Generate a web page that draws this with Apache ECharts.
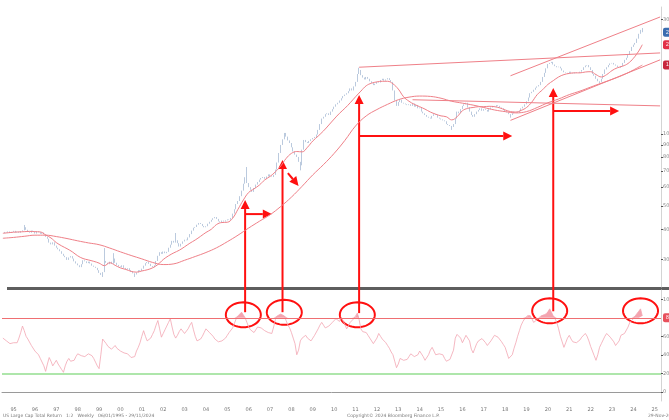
<!DOCTYPE html>
<html>
<head>
<meta charset="utf-8">
<script src="https://cdn.jsdelivr.net/npm/echarts@6/dist/echarts.min.js"></script>
<style>
  html, body { margin: 0; padding: 0; background: #fff; }
  #chart { width: 669px; height: 420px; }
</style>
</head>
<body>
<div id="chart"></div>
<script>
// monthly closes, Jan 1995 .. Dec 2024
const closes = [
  38.5, 39, 38.8, 39.2, 38.6, 39, 39.4, 38.8, 39.1, 38.7, 39.3, 39.6,
  40.8, 39.8, 39.2, 38.7, 39.5, 39, 38.4, 39.2, 38.9, 38.3, 38.8, 38.1,
  37.2, 36.5, 35.2, 34.6, 35.3, 34.2, 33.5, 33.0, 32.4, 31.6, 31.0, 30.6,
  29.8, 30.5, 30.9, 30.2, 29.4, 28.8, 28.3, 27.8, 28.6, 29.7, 29.4, 28.9,
  29.3, 28.8, 28.2, 27.9, 27.6, 27.0, 26.3, 25.8, 26.5, 29.5, 29.0, 28.6,
  29.3, 28.7, 30.2, 29.0, 28.4, 28.0, 27.8, 28.3, 27.6, 27.2, 27.5, 27.0,
  26.6, 26.2, 25.9, 26.4, 27.0, 26.8, 27.4, 28.2, 28.9, 29.2, 28.7, 28.1,
  27.8, 28.3, 29.5, 31.0, 32.1, 31.6, 32.3, 31.8, 32.2, 33.5, 34.5, 35.8,
  35.2, 36.0, 35.0, 33.9, 34.8, 35.6, 36.2, 36.0, 37.0, 38.2, 39.5, 40.6,
  40.9, 41.8, 42.5, 42.1, 41.3, 40.8, 41.2, 42.2, 43.0, 43.8, 44.5, 45.0,
  44.2, 43.2, 42.8, 43.5, 43.1, 43.6, 44.0, 43.8, 44.6, 46.5, 48.5, 51.0,
  52.5, 55.0, 58.0, 62.0, 66.0, 62.4, 60.0, 58.5, 57.3, 59.5, 61.5, 63.0,
  64.5, 65.5, 66.1, 65.0, 66.5, 67.8, 66.5, 66.1, 67.5, 71.0, 76.0, 83.3,
  90.0, 95.0, 101, 97.5, 94.0, 91.7, 88.0, 84.5, 82.0, 80.2, 76.5, 74.0,
  86.0, 94.4, 92.5, 91.7, 93.5, 95.0, 96.2, 97.2, 99.5, 104, 110, 116,
  118, 121, 122, 120, 124, 127, 130, 133, 135, 138, 141, 144,
  146, 148, 151, 155, 152, 158, 165, 178, 185, 176, 172, 169,
  173, 170, 166, 163, 160, 162, 165, 164, 168, 170, 167, 169,
  171, 168, 165, 152, 138, 131, 136, 139, 135, 134, 133, 132,
  133, 131, 134, 130, 132, 128, 129, 124, 122, 120, 118, 117,
  116, 119, 121, 120, 117, 116, 115, 114, 113, 110, 109, 108,
  107, 110, 116, 124, 122, 127, 131, 133, 135, 129, 124, 120,
  118, 121, 124, 126, 128, 125, 127, 126, 124, 127, 129, 131,
  130, 132, 131, 129, 128, 126, 124, 123, 121, 120, 122, 124,
  124, 123, 125, 128, 130, 133, 137, 142, 148, 150, 153, 156,
  158, 160, 165, 173, 180, 188, 196, 198, 200, 195, 192, 190,
  191, 188, 184, 181, 180, 179, 182, 180, 179, 181, 180, 180,
  182, 185, 190, 193, 194, 190, 185, 178, 175, 170, 166, 165,
  170, 178, 186, 190, 194, 197, 198, 195, 193, 190, 189, 192,
  198, 204, 208, 214, 222, 231, 236, 240, 250, 262, 272, 266
];

// [month index, price] for the visible wicks
const highSpikes = [[12, 41.7], [57, 33.4], [62, 31.8], [97, 38.6], [137, 72.8], [200, 189], [359, 277]];
const lowSpikes = [[56, 25.3], [74, 25.3], [167, 70.5], [252, 104], [285, 117], [335, 163]];

// short moving average, [month index, value]
const shortMa = [
  [0, 38.5], [3, 38.7], [6, 38.9], [9, 39], [12, 39.1], [15, 39.2], [18, 39.1], [21, 39],
  [24, 37.9], [27, 36.8], [30, 35.2], [33, 34.1], [36, 33.2], [39, 32.2], [42, 31.0], [45, 30.2],
  [48, 29.8], [51, 29.4], [54, 28.9], [57, 28.2], [60, 29.0], [63, 28.3], [66, 27.6], [69, 27.2],
  [72, 26.7], [75, 26.5], [78, 26.8], [81, 27.1], [84, 27.6], [87, 28.5], [90, 29.9], [93, 31.0],
  [96, 31.9], [99, 32.7], [102, 33.8], [105, 35.0], [108, 36.1], [111, 37.4], [114, 38.8], [117, 40.0],
  [120, 41.9], [123, 42.7], [126, 42.8], [129, 44.5], [132, 48.5], [135, 53.0], [138, 57.0], [141, 59.0],
  [144, 61.2], [147, 64.3], [150, 66.5], [153, 69.5], [156, 73.5], [159, 79.0], [162, 83.0], [165, 84.5],
  [168, 84.2], [171, 88.0], [174, 93.5], [177, 98.0], [180, 103], [183, 109], [186, 115.5], [189, 122],
  [192, 128], [195, 135], [198, 143], [201, 151], [204, 159], [207, 163], [210, 165], [213, 166],
  [216, 166], [219, 162], [222, 154], [225, 143], [228, 137], [231, 133], [234, 130], [237, 127],
  [240, 123.5], [243, 121], [246, 119], [249, 118], [252, 114.5], [255, 118], [258, 125], [261, 128],
  [264, 129], [267, 130], [270, 130], [273, 130.5], [276, 130], [279, 128.5], [282, 126], [285, 124],
  [288, 123.5], [291, 125.5], [294, 129], [297, 136], [300, 146], [303, 153], [306, 161], [309, 167],
  [312, 173], [315, 177], [318, 179], [321, 180], [324, 180], [327, 181.5], [330, 182], [333, 177],
  [336, 173], [339, 177], [342, 184], [345, 189], [348, 192], [351, 197], [354, 207], [357, 222],
  [359, 236]
];

// long moving average, [month index, value]
const longMa = [
  [0, 36.7], [6, 37.0], [12, 37.4], [18, 37.8], [24, 37.8], [30, 37.3], [36, 36.6], [42, 35.8],
  [48, 35.1], [54, 34.5], [60, 33.4], [66, 32.2], [72, 31.1], [78, 30.1], [84, 29.1], [90, 28.5],
  [96, 28.7], [102, 29.7], [108, 30.8], [114, 32.0], [120, 33.5], [126, 35.5], [132, 37.8], [138, 40.5],
  [144, 43.2], [150, 46.0], [156, 49.8], [162, 54.5], [168, 60.5], [174, 67.5], [180, 74.5], [186, 83],
  [192, 94], [198, 108], [204, 119], [210, 126.5], [216, 133], [222, 139], [228, 142.5], [234, 144],
  [240, 143.5], [246, 141], [252, 137], [258, 134.5], [264, 132], [270, 129], [276, 126], [282, 124],
  [288, 122.5], [294, 124], [300, 129], [306, 135], [312, 140], [318, 146], [324, 151], [330, 157],
  [336, 163], [342, 169], [348, 176], [354, 185], [359, 194]
];

// monthly oscillator, Jan 1995 .. Dec 2024
const rsi = [
  58, 56, 55, 57, 52, 51, 53, 54, 53, 58, 64, 71,
  66, 60, 57, 55, 50, 48, 44, 42, 40, 36, 34, 28,
  22, 30, 37, 33, 28, 31, 34, 30, 27, 24, 21, 28,
  33, 36, 33, 31, 34, 38, 41, 42, 39, 37, 38, 40,
  41, 43, 39, 36, 32, 28, 25, 40, 57, 55, 52, 49,
  47, 46, 48, 50, 47, 45, 44, 43, 42, 43, 41, 39,
  37, 36, 38, 44, 48, 53, 60, 66, 60, 55, 53, 58,
  62, 66, 72, 77, 68, 59, 63, 67, 71, 75, 79, 70,
  62, 58, 61, 65, 68, 66, 63, 64, 68, 72, 75, 67,
  60, 55, 56, 57, 60, 64, 68, 66, 64, 63, 60, 57,
  56, 54, 53, 55, 57, 58, 61, 64, 66, 69, 74, 79,
  82, 84, 86, 87.5, 80, 75, 70, 67, 65, 64, 67, 70,
  71, 69, 67, 66, 66, 64, 63, 63, 70, 78, 82, 84,
  84, 86, 82, 77, 72, 69, 64, 58, 52, 40, 45, 55,
  58, 60, 61, 58, 56, 55, 58, 61, 63, 68, 72, 75,
  72, 69, 68, 71, 73, 75, 77, 79, 78, 76, 80, 82,
  73, 68, 71, 75, 77, 79, 81, 85, 78, 68, 65, 64,
  64, 61, 58, 56, 52, 54, 58, 63, 60, 57, 55, 53,
  50, 47, 43, 40, 33, 26, 30, 36, 37, 34, 32, 35,
  38, 41, 40, 38, 37, 40, 44, 42, 38, 34, 36, 40,
  45, 48, 44, 40, 39, 41, 42.5, 40, 36, 33, 32, 35,
  37, 45, 58, 62, 64, 58, 53, 57, 61, 63, 55, 46,
  42, 47, 52, 55, 56, 57.5, 56, 53, 50, 52, 55, 58,
  61, 60, 59, 57, 54, 51, 48, 42, 36, 34, 40, 47,
  53, 60, 66, 72, 76, 79, 81, 83, 83, 79, 75, 76,
  78, 80, 82, 83, 83, 84, 86, 89.6, 86, 82, 79, 75,
  68, 60, 54, 48, 53, 58, 61, 57, 54, 52, 53, 55,
  56, 59, 61, 63, 60, 55, 49, 44, 39, 34, 40, 48,
  52, 56, 60, 63, 61, 59, 57.5, 54, 50, 48, 55, 61,
  63, 63, 64, 70, 75, 77, 79, 82, 84, 87, 89.6, 82
];

const priceTicks = [30, 40, 50, 60, 70, 80, 90, 100, 300];
const rsiTicks = [0, 20, 40, 60, 100];
const RSI_HIGH = 80;
const RSI_LOW = 20;

// annotations in data space: [month, rsi at the foot, price at the tip]
const upArrows = [[136, 86, 53.0], [157.4, 86, 77.9], [200, 85, 145.5], [308.8, 87, 155.6]];
// [month0, price0, month1, price1]
const sideArrows = [[136, 46.3, 151.2, 46.3], [159.6, 68.7, 165.8, 60.7], [200, 98.1, 285.8, 98.1], [308.8, 124.7, 346.3, 124.7]];
// ellipse centres on the oscillator: [month, value]
const rings = [[134.9, 83.2], [157.7, 85.9], [198.9, 83.2], [306.8, 87.5], [357.8, 87.5]];
// trend lines: [month0, price0, month1, price1]
const trendLines = [[200, 190, 369, 218], [285, 175, 369, 308], [230, 139, 369, 131], [285, 114, 369, 204]];

const START_YEAR = 1995;
const N_MONTHS = 370;
const months = [];
for (let i = 0; i < N_MONTHS; i++) {
  months.push((START_YEAR + Math.floor(i / 12)) + '-' + String(i % 12 + 1).padStart(2, '0'));
}

const candles = closes.map((c, i) => {
  const o = i ? closes[i - 1] : c;
  return [o, c, Math.min(o, c), Math.max(o, c)];
});
highSpikes.forEach(([i, v]) => { candles[i][3] = Math.max(candles[i][3], v); });
lowSpikes.forEach(([i, v]) => { candles[i][2] = Math.min(candles[i][2], v); });

const RED = '#ff1010';
const LINE_RED = '#ef8088';
const BAR = '#aabdd6';

const boxLabel = (bg) => ({
  show: true, position: 'end', distance: 2, fontSize: 5, color: '#fff',
  backgroundColor: bg, borderRadius: 2, padding: [2, 3],
  formatter: p => Math.round(p.value)
});
const hiddenLine = { color: 'rgba(0,0,0,0)', width: 0 };

const chart = echarts.init(document.getElementById('chart'), null, { renderer: 'canvas' });

chart.setOption({
  animation: false,
  backgroundColor: '#fff',
  grid: [
    { left: 2, right: 8, top: 7, height: 280, containLabel: false, outerBoundsMode: 'none' },
    { left: 2, right: 8, top: 290, height: 111, containLabel: false, outerBoundsMode: 'none' }
  ],
  xAxis: [
    {
      type: 'category', gridIndex: 0, data: months,
      axisLine: { show: false }, axisTick: { show: false }, axisLabel: { show: false }, splitLine: { show: false }
    },
    {
      type: 'category', gridIndex: 1, data: months,
      axisLine: { lineStyle: { color: '#9a9a9a', width: 1 } },
      axisTick: { interval: (i) => i % 12 === 0, length: 9, lineStyle: { color: '#c4c4c4' } },
      axisLabel: {
        interval: (i) => i % 12 === 6,
        formatter: v => v.slice(2, 4),
        fontSize: 5, color: '#777', margin: 6, fontFamily: 'DejaVu Sans'
      },
      splitLine: { show: false }
    }
  ],
  yAxis: [
    {
      type: 'log', logBase: 10, gridIndex: 0, position: 'right', min: 22.97, max: 339,
      axisLine: { show: true, lineStyle: { color: '#d4d4d4' } },
      axisTick: { show: true, length: 2, customValues: priceTicks, lineStyle: { color: '#555' } },
      axisLabel: { customValues: priceTicks, fontSize: 5, color: '#888', margin: 2, fontFamily: 'DejaVu Sans' },
      splitLine: { show: false }
    },
    {
      type: 'value', gridIndex: 1, position: 'right', min: -10, max: 110,
      axisLine: { show: true, lineStyle: { color: '#d4d4d4' } },
      axisTick: { show: true, length: 2, customValues: rsiTicks, lineStyle: { color: '#555' } },
      axisLabel: { customValues: rsiTicks, fontSize: 5, color: '#888', margin: 2, fontFamily: 'DejaVu Sans' },
      splitLine: { show: false }
    }
  ],
  series: [
    {
      name: 'Price', type: 'candlestick', xAxisIndex: 0, yAxisIndex: 0,
      data: candles, barWidth: 1.2,
      itemStyle: { color: BAR, color0: BAR, borderColor: BAR, borderColor0: BAR, borderWidth: 0.8 },
      markLine: {
        silent: true, symbol: ['none', 'none'], animation: false,
        data: [
          { yAxis: closes[closes.length - 1], lineStyle: hiddenLine, label: boxLabel('#3a6db0') }
        ].concat(trendLines.map(t => [
          { coord: [t[0], t[1]], lineStyle: { color: LINE_RED, width: 1, type: 'solid' }, label: { show: false } },
          { coord: [t[2], t[3]] }
        ]))
      }
    },
    {
      name: 'Short MA', type: 'line', xAxisIndex: 0, yAxisIndex: 0,
      data: shortMa, smooth: 0.4, showSymbol: false,
      lineStyle: { color: LINE_RED, width: 1 },
      markLine: {
        silent: true, symbol: ['none', 'none'],
        data: [{ yAxis: shortMa[shortMa.length - 1][1], lineStyle: hiddenLine, label: boxLabel('#e23148') }]
      }
    },
    {
      name: 'Long MA', type: 'line', xAxisIndex: 0, yAxisIndex: 0,
      data: longMa, smooth: 0.4, showSymbol: false,
      lineStyle: { color: LINE_RED, width: 1 },
      markLine: {
        silent: true, symbol: ['none', 'none'],
        data: [{ yAxis: longMa[longMa.length - 1][1], lineStyle: hiddenLine, label: boxLabel('#c8283e') }]
      }
    },
    {
      name: 'Overbought', type: 'line', xAxisIndex: 1, yAxisIndex: 1,
      data: rsi.map(v => Math.max(v, RSI_HIGH)), showSymbol: false,
      lineStyle: { width: 0 },
      areaStyle: { origin: RSI_HIGH, color: '#f39aa6', opacity: 0.9 }
    },
    {
      name: 'RSI', type: 'line', xAxisIndex: 1, yAxisIndex: 1,
      data: rsi, showSymbol: false,
      lineStyle: { color: '#f2a6b2', width: 0.8 },
      markLine: {
        silent: true, symbol: ['none', 'none'],
        data: [
          { yAxis: RSI_HIGH, lineStyle: { color: '#ef6f72', width: 1.2, type: 'solid' },
            label: Object.assign(boxLabel('#e8505c'), { formatter: String(RSI_HIGH) }) },
          { yAxis: RSI_LOW, lineStyle: { color: '#93de8f', width: 1.5, type: 'solid' }, label: { show: false } }
        ]
      }
    }
  ]
});

// annotations drawn through the chart's own coordinate conversion
const toPx = (grid, m, v) => chart.convertToPixel({ gridIndex: grid }, [m, v]);

function arrow(p0, p1) {
  const dx = p1[0] - p0[0], dy = p1[1] - p0[1];
  const len = Math.hypot(dx, dy);
  const ux = dx / len, uy = dy / len;
  const head = 9, half = 4.5;
  const bx = p1[0] - ux * head, by = p1[1] - uy * head;
  return [
    { type: 'line', silent: true, shape: { x1: p0[0], y1: p0[1], x2: bx, y2: by }, style: { stroke: RED, lineWidth: 2 } },
    { type: 'polygon', silent: true, shape: { points: [p1, [bx - uy * half, by + ux * half], [bx + uy * half, by - ux * half]] }, style: { fill: RED } }
  ];
}

function ring(c, rx, ry) {
  const pts = [];
  for (let k = 0; k < 48; k++) {
    const a = k / 48 * Math.PI * 2;
    pts.push([c[0] + rx * Math.cos(a), c[1] + ry * Math.sin(a)]);
  }
  return { type: 'polygon', silent: true, shape: { points: pts }, style: { fill: null, stroke: RED, lineWidth: 2 } };
}

const graphics = [
  { type: 'line', silent: true, shape: { x1: 7, y1: 288.5, x2: 669, y2: 288.5 }, style: { stroke: '#5e5e5e', lineWidth: 3 } },
  { type: 'text', left: 3, top: 413, style: { text: 'US Large Cap Total Return   1:2   Weekly   06/01/1995 - 29/11/2024', fontSize: 4.5, fill: '#777', fontFamily: 'DejaVu Sans' } },
  { type: 'text', left: 347, top: 413, style: { text: 'Copyright\u00a9 2024 Bloomberg Finance L.P.', fontSize: 4.5, fill: '#777', fontFamily: 'DejaVu Sans' } },
  { type: 'text', left: 648, top: 413, style: { text: '29-Nov-2024 23:15', fontSize: 4.5, fill: '#777', fontFamily: 'DejaVu Sans' } }
];

upArrows.forEach(([m, foot, tip]) => {
  graphics.push(...arrow(toPx(1, m, foot), toPx(0, m, tip)));
});
sideArrows.forEach(([m0, v0, m1, v1]) => {
  graphics.push(...arrow(toPx(0, m0, v0), toPx(0, m1, v1)));
});
rings.forEach(([m, v]) => {
  graphics.push(ring(toPx(1, m, v), 17.5, 12.5));
});

chart.setOption({ graphic: graphics });
</script>
</body>
</html>
